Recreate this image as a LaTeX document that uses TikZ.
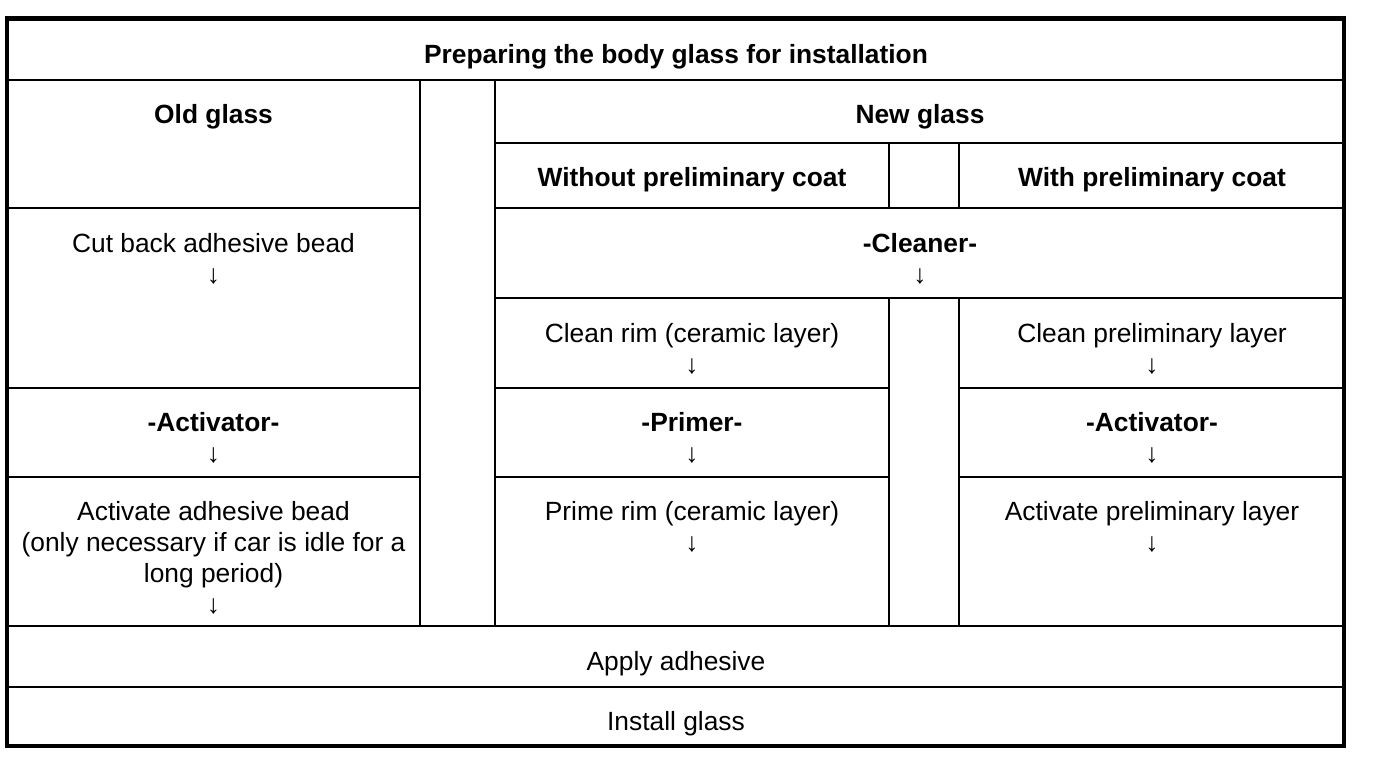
\documentclass[tikz,border=0pt]{standalone}
\usepackage{fontspec}
\setmainfont{Liberation Sans}
\usepackage{tikz}

\begin{document}
\begin{tikzpicture}[
    x=0.02cm, y=-0.02cm,
    txt/.style={anchor=north, inner sep=0pt, align=center, font=\fontsize{15}{17.6}\selectfont},
    hdr/.style={txt, font=\fontsize{15}{17.6}\selectfont\bfseries},
    rule/.style={line width=1.6pt},
    frame/.style={line width=2.3pt}
]
\useasboundingbox (0,0) rectangle (1376,762);

% full-width rules
\draw[rule] (7,80) -- (1344,80);
\draw[rule] (7,626) -- (1344,626);
\draw[rule] (7,687) -- (1344,687);
% new glass rules
\draw[rule] (495,143) -- (1344,143);
\draw[rule] (7,208) -- (420,208);
\draw[rule] (495,208) -- (1344,208);
\draw[rule] (495,298) -- (1344,298);
\draw[rule] (7,388) -- (420,388);
\draw[rule] (495,388) -- (889,388);
\draw[rule] (959,388) -- (1344,388);
\draw[rule] (7,477) -- (420,477);
\draw[rule] (495,477) -- (889,477);
\draw[rule] (959,477) -- (1344,477);
% columns
\draw[rule] (420,80) -- (420,626);
\draw[rule] (495,80) -- (495,626);
\draw[rule] (889,143) -- (889,208);
\draw[rule] (959,143) -- (959,208);
\draw[rule] (889,298) -- (889,626);
\draw[rule] (959,298) -- (959,626);
\draw[frame] (7,18.5) rectangle (1344,746);

\node[hdr] (title) at (676,44.5) {Preparing the body glass for installation};
\node[hdr] (old) at (213.5,104) {Old glass};
\node[hdr] (new) at (920,104) {New glass};
\node[hdr] (without) at (692,167.5) {Without preliminary coat};
\node[hdr] (with) at (1152,167.5) {With preliminary coat};

\node[txt] (cutback) at (213.5,233) {Cut back adhesive bead\\↓};
\node[txt] (activator1) at (213.5,412.5) {\textbf{-Activator-}\\↓};
\node[txt] (activate1) at (213.5,501.5) {Activate adhesive bead\\(only necessary if car is idle for a\\long period)\\↓};

\node[txt] (cleaner) at (920,233) {\textbf{-Cleaner-}\\↓};
\node[txt] (cleanrim) at (692,323) {Clean rim (ceramic layer)\\↓};
\node[txt] (primer) at (692,412.5) {\textbf{-Primer-}\\↓};
\node[txt] (primerim) at (692,501.5) {Prime rim (ceramic layer)\\↓};

\node[txt] (cleanpre) at (1152,323) {Clean preliminary layer\\↓};
\node[txt] (activator2) at (1152,412.5) {\textbf{-Activator-}\\↓};
\node[txt] (activate2) at (1152,501.5) {Activate preliminary layer\\↓};

\node[txt] (apply) at (676,651) {Apply adhesive};
\node[txt] (install) at (676,711.5) {Install glass};
\end{tikzpicture}
\end{document}
